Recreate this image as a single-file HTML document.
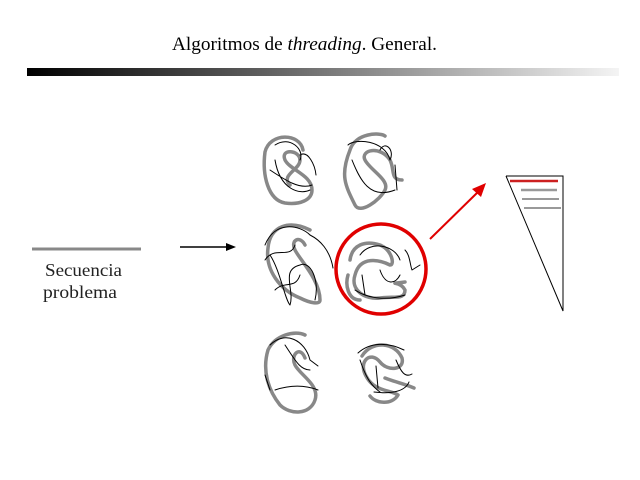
<!DOCTYPE html>
<html><head><meta charset="utf-8"><style>
html,body{margin:0;padding:0;background:#fff;}
body{width:640px;height:480px;overflow:hidden;position:relative;font-family:"Liberation Serif",serif;}
</style></head><body>
<svg width="640" height="480" viewBox="0 0 640 480" xmlns="http://www.w3.org/2000/svg" style="position:absolute;left:0;top:0">
<defs>
<linearGradient id="g" x1="0" x2="1" y1="0" y2="0">
<stop offset="0" stop-color="#000"/><stop offset="0.5" stop-color="#777"/><stop offset="1" stop-color="#f4f4f4"/>
</linearGradient>
</defs>
<text x="172" y="50" font-family="Liberation Serif, serif" font-size="19" fill="#000" textLength="265" lengthAdjust="spacingAndGlyphs">Algoritmos de <tspan font-style="italic">threading</tspan>. General.</text>
<rect x="27" y="68" width="592" height="8" fill="url(#g)"/>

<line x1="32" y1="249" x2="141" y2="249" stroke="#888" stroke-width="3"/>
<text x="45" y="276" font-size="18" fill="#222" textLength="77" lengthAdjust="spacingAndGlyphs">Secuencia</text>
<text x="43" y="298" font-size="18" fill="#222" textLength="74" lengthAdjust="spacingAndGlyphs">problema</text>
<line x1="180" y1="247" x2="228" y2="247" stroke="#000" stroke-width="1.5"/>
<polygon points="236,247 226,243 226,251" fill="#000"/>

<g fill="none" stroke-linecap="round" stroke-linejoin="round">
<!-- top-left -->
<path d="M265,152 C270,132 300,133 303,150 M265,152 C262,175 268,200 285,203 C300,205 312,200 312,190 C312,175 290,170 285,160 C280,148 300,150 300,160 C300,170 280,175 290,185" stroke="#888" stroke-width="3.5"/>
<path d="M275,145 C290,135 305,150 300,160 M270,170 C285,180 300,190 312,185 M300,155 C308,150 315,165 316,175 M275,160 C280,190 300,195 310,190" stroke="#000" stroke-width="1"/>
<!-- top-right -->
<path d="M350,150 C355,133 380,132 385,136 M350,150 C340,175 345,185 355,205 C360,215 380,200 385,190 C390,180 370,170 365,160 C360,150 380,145 390,160 C395,170 390,180 402,180" stroke="#888" stroke-width="3.5"/>
<path d="M348,145 C355,138 385,140 390,160 M352,160 C360,180 370,200 395,190 M380,150 C385,140 395,150 390,160 M395,165 L397,190" stroke="#000" stroke-width="1"/>
<!-- mid-left -->
<path d="M268,248 C270,225 290,220 310,230 M268,248 C265,270 280,290 300,298 C310,303 320,305 320,300 C320,280 300,260 295,250 C290,240 300,235 305,245" stroke="#888" stroke-width="3.5"/>
<path d="M265,245 C275,220 300,225 310,235 C320,240 330,250 333,268 M270,255 C280,270 285,300 290,305 C295,290 280,270 300,265 C310,260 320,280 315,300 M275,290 C285,280 295,290 300,275 M265,260 C275,245 290,260 295,245" stroke="#000" stroke-width="1"/>
<!-- mid-right highlighted -->
<path d="M350,260 C352,245 365,240 380,245 C392,250 395,265 390,265 C380,260 360,255 355,275 C350,290 365,300 380,298 C395,296 405,300 405,290 C400,280 385,285 405,282 M348,275 C345,285 348,300 360,300" stroke="#888" stroke-width="3.5"/>
<path d="M360,255 C370,240 395,245 400,260 M362,275 L365,295 M380,270 C385,285 395,285 400,275 M405,250 C410,255 410,265 412,270 L420,265 M355,290 C370,300 390,300 405,295" stroke="#000" stroke-width="1"/>
<circle cx="381" cy="269" r="45" stroke="#e00000" stroke-width="3.5"/>
<!-- bottom-left -->
<path d="M268,350 C275,335 295,330 305,335 M268,350 C262,370 268,390 280,405 C290,415 310,415 315,400 C320,385 300,375 295,365 C290,355 300,345 305,358" stroke="#888" stroke-width="3.5"/>
<path d="M270,345 C285,330 305,340 310,360 L318,366 M265,375 L270,390 M275,390 C290,385 305,385 318,390 M285,345 C295,360 300,370 310,370" stroke="#000" stroke-width="1"/>
<!-- bottom-right -->
<path d="M362,356 C372,340 395,342 402,358 C405,370 388,372 380,362 C370,350 358,362 366,376 C374,392 392,390 398,395 C392,405 376,404 370,396 M385,378 C395,382 405,384 414,388" stroke="#888" stroke-width="3.5"/>
<path d="M358,353 C370,342 388,342 404,350 M376,366 L378,388 M396,360 C401,372 405,378 412,374 M374,392 C390,394 405,392 409,382 M360,360 C365,375 370,385 380,392" stroke="#000" stroke-width="1"/>
</g>

<line x1="430" y1="239" x2="480" y2="190" stroke="#e00000" stroke-width="2"/>
<polygon points="486,183 472,189 481,197" fill="#e00000"/>

<polyline points="506,176 563,176 563,311 506,176" fill="none" stroke="#000" stroke-width="1"/>
<line x1="510" y1="181" x2="558" y2="181" stroke="#cc2020" stroke-width="2.5"/>
<line x1="521" y1="190" x2="557" y2="190" stroke="#999" stroke-width="2.5"/>
<line x1="522" y1="199" x2="559" y2="199" stroke="#999" stroke-width="2"/>
<line x1="524" y1="208" x2="561" y2="208" stroke="#999" stroke-width="2"/>
</svg>
</body></html>
